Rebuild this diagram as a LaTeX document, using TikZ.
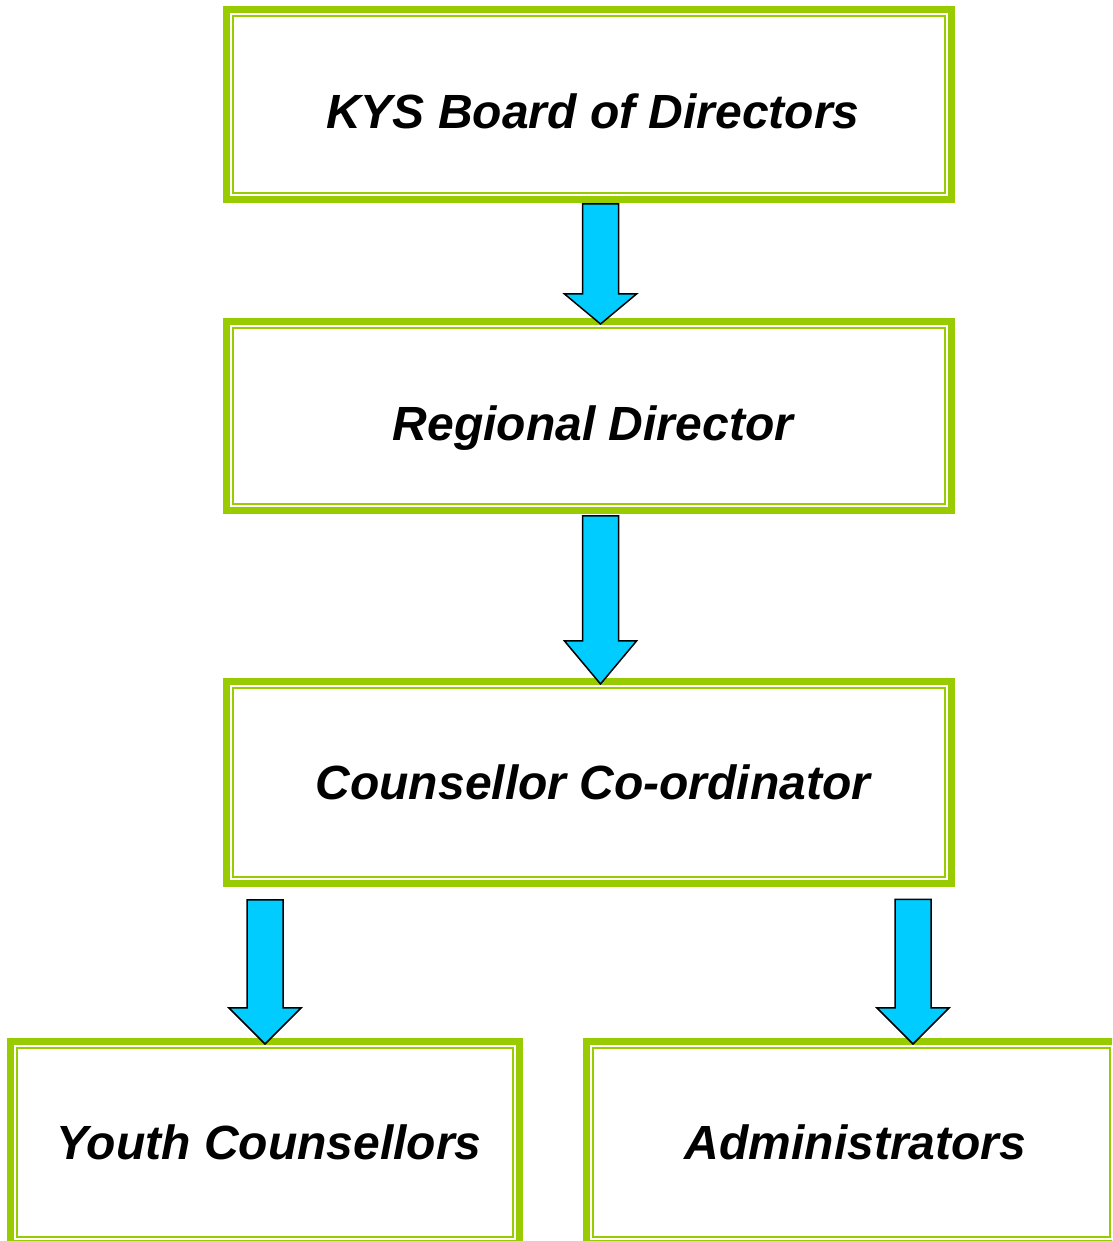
\documentclass[tikz,border=0pt]{standalone}
\usepackage{fontspec}
\setmainfont{Liberation Sans}
\usetikzlibrary{positioning,calc}

\definecolor{framegreen}{HTML}{99CC00}
\definecolor{arrowcyan}{HTML}{00CCFF}

\tikzset{
  post/.style={draw=framegreen, line width=7pt, inner sep=0pt, outer sep=0pt,
    minimum width=725pt, font=\bfseries\itshape\fontsize{48}{56}\selectfont,
    execute at begin node=\hspace*{8pt}},
  lowtext/.style={text height=49pt, text depth=0pt},
  innerframe/.style={draw=framegreen, line width=2pt},
  flowarrow/.style={draw=black, line width=1.5pt, fill=arrowcyan, line join=miter},
}

% block arrow: x, from node, gap below it, to node, head length
\newcommand{\flowdown}[5]{%
  \draw[flowarrow] let \p1=(#2.south), \p2=(#4.north) in
    (#1-18,\y1-#3) -- (#1+18,\y1-#3) -- (#1+18,\y2-2.5+#5) -- (#1+36,\y2-2.5+#5)
    -- (#1,\y2-2.5) -- (#1-36,\y2-2.5+#5) -- (#1-18,\y2-2.5+#5) -- cycle;}

\begin{document}
\begin{tikzpicture}[x=1pt,y=1pt]

  \clip (0,0) rectangle (1112,1241);

  \node[post, lowtext, minimum height=190pt] (kys) at (589,1136.5) {KYS Board of Directors};
  \node[post, lowtext, minimum height=189pt] (reg) [below=122pt of kys] {Regional Director};
  \node[post, minimum height=202pt] (coord) [below=171pt of reg] {Counsellor Co-ordinator};
  \node[post, minimum width=509pt, minimum height=202pt] (youth) at (265,98.5) {Youth Counsellors};
  \node[post, minimum width=530pt, minimum height=202pt] (admin) at (851.5,98.5) {Administrators};

  % thin inner line of each frame
  \foreach \nd in {kys,reg,coord,youth,admin}
    \draw[innerframe] ([shift={(6.5pt,-6.5pt)}]\nd.north west) rectangle ([shift={(-6.5pt,6.5pt)}]\nd.south east);

  \flowdown{600.5}{kys}{4.5}{reg}{30}
  \flowdown{600.5}{reg}{5.5}{coord}{43}
  \flowdown{265}{coord}{16.5}{youth}{36}
  \flowdown{913}{coord}{16}{admin}{36}

\end{tikzpicture}
\end{document}
